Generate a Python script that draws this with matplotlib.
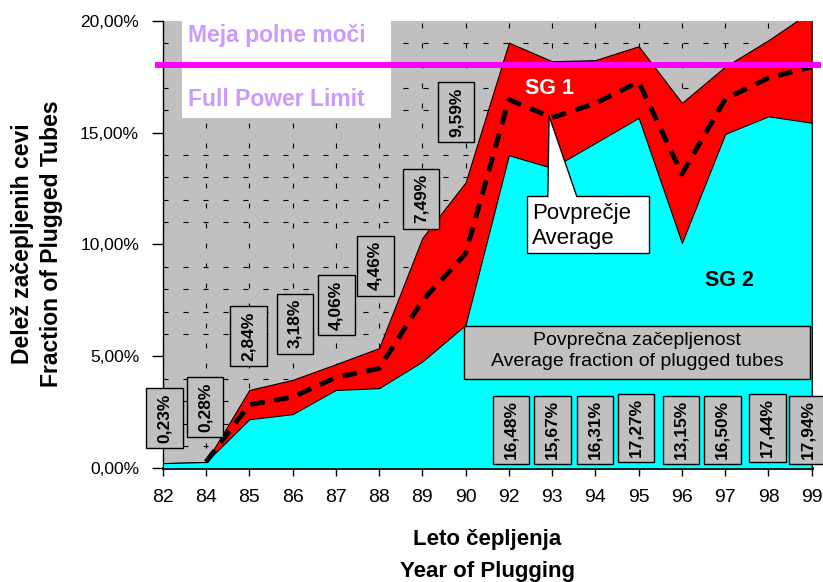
import matplotlib
matplotlib.use("Agg")
import matplotlib.pyplot as plt
from matplotlib.patches import Rectangle, Polygon
from matplotlib.ticker import FuncFormatter

plt.rcParams['font.family'] = ['Liberation Sans', 'DejaVu Sans']

# ---------------- data ----------------
years = ['82', '84', '85', '86', '87', '88', '89', '90', '92', '93', '94', '95', '96', '97', '98', '99']
sg1 = [0.23, 0.28, 3.50, 3.95, 4.65, 5.37, 10.29, 12.78, 19.02, 18.19, 18.24, 18.86, 16.33, 17.95, 19.13, 20.44]
sg2 = [0.23, 0.28, 2.19, 2.42, 3.50, 3.58, 4.77, 6.41, 13.99, 13.42, 14.54, 15.66, 10.07, 14.94, 15.73, 15.44]
avg = [0.23, 0.28, 2.84, 3.18, 4.06, 4.46, 7.49, 9.59, 16.48, 15.67, 16.31, 17.27, 13.15, 16.50, 17.44, 17.94]
full_power_limit = 18.0

# ---------------- layout (annotation positions) ----------------
label_dx = [0.05, -0.02, -0.01, 0.06, 0.01, -0.09, -0.03, -0.22,
            0.05, 0.0, -0.01, -0.06, -0.02, -0.07, -0.03, -0.09]
label_y = [2.25, 2.74, 5.9, 6.46, 7.3, 9.05, 12.05, 15.9,
           1.72, 1.72, 1.72, 1.81, 1.72, 1.72, 1.81, 1.72]

x = list(range(len(years)))

fig = plt.figure(figsize=(8.23, 5.82), dpi=100)
ax = fig.add_axes([0.1977, 0.1954, 0.7886, 0.769])
ax.set_facecolor('#C0C0C0')
ax.set_axisbelow(True)

ax.fill_between(x, 0, sg1, facecolor='#FF0000', edgecolor='black', linewidth=0.8, zorder=2)
ax.fill_between(x, 0, sg2, facecolor='#00FFFF', edgecolor='black', linewidth=0.8, zorder=3)
ax.plot(x[1:], avg[1:], color='black', linewidth=3.5, linestyle=(0, (3, 2)), zorder=4)

ax.set_xlim(0, len(years) - 1)
ax.set_ylim(0, 20)
ax.set_xticks(x)
ax.set_xticklabels(years)
ax.set_yticks([0, 5, 10, 15, 20])
ax.set_yticks(range(0, 21), minor=True)
ax.yaxis.set_major_formatter(FuncFormatter(lambda v, p: f"{v:.2f}%".replace('.', ',')))
ax.tick_params(axis='x', direction='out', length=6, width=1, pad=9, labelsize=14)
ax.tick_params(axis='y', which='major', direction='out', length=8, width=1, pad=9, labelsize=12.5)
ax.tick_params(axis='y', which='minor', length=0)

ax.grid(True, axis='x', which='major', color='black', linewidth=0.8, linestyle=(0, (4.5, 13.5)))
ax.grid(True, axis='y', which='minor', color='black', linewidth=0.8, linestyle=(0, (4.5, 13.5)))

for s in ['top', 'right']:
    ax.spines[s].set_visible(False)
ax.spines['bottom'].set_linewidth(2)
ax.spines['left'].set_linewidth(1)

# white box with full power limit text
ax.add_patch(Rectangle((0.0297, 0.7826), 0.3213, 0.2174, transform=ax.transAxes,
                       facecolor='white', edgecolor='none', zorder=1))
ax.text(0.039, 0.966, 'Meja polne moči', transform=ax.transAxes, ha='left', va='center',
        color='#CC99FF', fontsize=16.5, fontweight='bold', zorder=6)
ax.text(0.039, 0.823, 'Full Power Limit', transform=ax.transAxes, ha='left', va='center',
        color='#CC99FF', fontsize=16.5, fontweight='bold', zorder=6)
ax.axhline(full_power_limit, xmin=-0.007, xmax=1.01, color='#FF00FF', linewidth=4.3,
           clip_on=False, zorder=5)

# SG labels
ax.text(8.95, 16.97, 'SG 1', ha='center', va='center', color='white', fontsize=15.5,
        fontweight='bold', zorder=6)
ax.text(13.11, 8.38, 'SG 2', ha='center', va='center', color='black', fontsize=15.5,
        fontweight='bold', zorder=6)

# callout "Povprečje / Average"
ax.add_patch(Rectangle((8.41, 9.62), 2.84, 2.53, facecolor='white', edgecolor='black',
                       linewidth=1, zorder=6))
ax.add_patch(Polygon([(8.90, 12.0), (8.90, 12.15), (8.93, 15.75), (9.57, 12.15), (9.57, 12.0)],
                     closed=True, facecolor='white', edgecolor='none', zorder=6.5))
ax.plot([8.90, 8.93], [12.15, 15.75], color='black', linewidth=1, zorder=6.6)
ax.plot([9.57, 8.93], [12.15, 15.75], color='black', linewidth=1, zorder=6.6)
ax.text(8.53, 10.81, 'Povprečje\nAverage', ha='left', va='center', fontsize=16,
        linespacing=1.26, zorder=7)

# average fraction box
ax.add_patch(Rectangle((6.96, 4.0), 8.0, 2.34, facecolor='#C0C0C0', edgecolor='black',
                       linewidth=1, zorder=6))
ax.text(10.96, 5.24, 'Povprečna začepljenost\nAverage fraction of plugged tubes',
        ha='center', va='center', fontsize=14, linespacing=1.34, zorder=7)

# value labels (boxes sized in data units of this fixed axes)
box_w = 0.85
for i, v in enumerate(avg):
    txt = f"{v:.2f}%".replace('.', ',')
    box_h = 2.68 if len(txt) <= 5 else 3.04
    cx, cy = i + label_dx[i], label_y[i]
    ax.add_patch(Rectangle((cx - box_w / 2, cy - box_h / 2), box_w, box_h,
                           facecolor='#C0C0C0', edgecolor='black', linewidth=1,
                           zorder=8, clip_on=False))
    ax.text(cx, cy, txt, rotation=90, ha='center', va='center', fontsize=12.5,
            fontweight='bold', zorder=9)

# axis titles
fig.text(487 / 823, 1 - 540 / 582, 'Leto čepljenja', ha='center', va='center',
         fontsize=16, fontweight='bold')
fig.text(487 / 823, 1 - 571 / 582, 'Year of Plugging', ha='center', va='center',
         fontsize=16, fontweight='bold')
fig.text(37 / 823, 1 - 244 / 582, 'Delež začepljenih cevi\nFraction of Plugged Tubes',
         rotation=90, ha='center', va='center', multialignment='center',
         fontsize=16.5, fontweight='bold', linespacing=1.3)

fig.savefig('out.png', dpi=100)
